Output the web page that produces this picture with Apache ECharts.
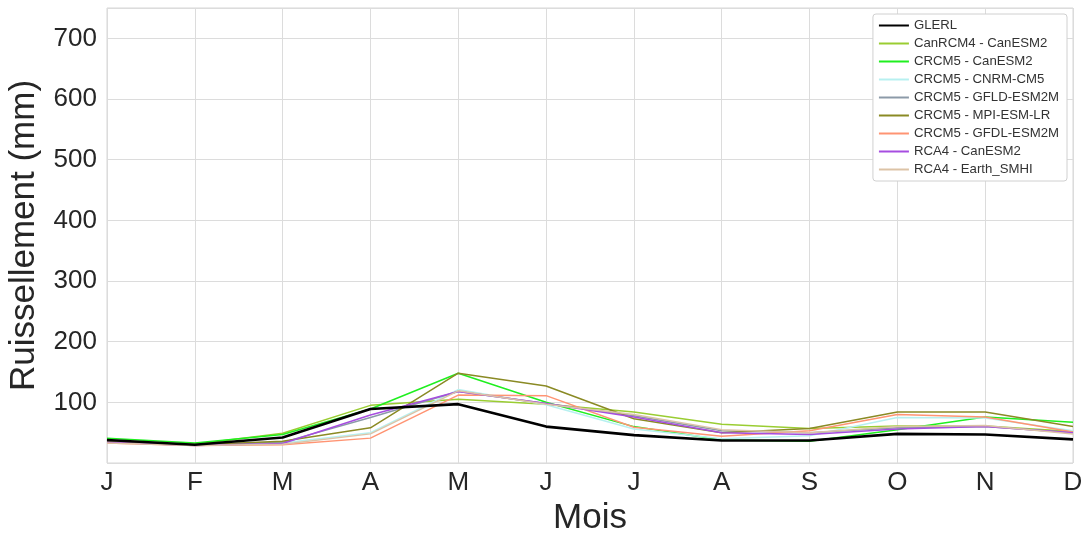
<!DOCTYPE html>
<html>
<head>
<meta charset="utf-8">
<script src="https://cdn.jsdelivr.net/npm/echarts@6/dist/echarts.min.js"></script>
<style>
  html, body { margin: 0; padding: 0; background: #fff; }
  #chart { width: 1087px; height: 533px; }
</style>
</head>
<body>
<div id="chart"></div>
<script>
// mois
var months = ["J", "F", "M", "A", "M", "J", "J", "A", "S", "O", "N", "D"];

// ruissellement mensuel (mm)
var glerl        = [38, 30, 42, 89, 97, 60, 46, 37, 37, 48, 47, 39];
var canrcm4Can   = [36, 31, 49, 95, 105, 97, 84, 64, 57, 61, 61, 52];
var crcm5Can     = [41, 33, 47, 89, 148, 100, 60, 38, 36, 55, 76, 67];
var crcm5Cnrm    = [35, 30, 33, 50, 121, 96, 56, 40, 45, 75, 74, 53];
var crcm5Gfld    = [34, 30, 34, 75, 118, 98, 78, 53, 50, 58, 60, 50];
var crcm5Mpi     = [35, 30, 36, 58, 148, 127, 73, 50, 57, 84, 84, 60];
var crcm5Gfdl    = [33, 29, 30, 41, 112, 111, 59, 44, 53, 80, 76, 51];
var rca4Can      = [34, 29, 32, 79, 118, 98, 76, 50, 47, 56, 60, 50];
var rca4Earth    = [33, 29, 31, 48, 119, 97, 80, 55, 50, 60, 62, 48];

var yTicks = [100, 200, 300, 400, 500, 600, 700];

var myChart = echarts.init(document.getElementById("chart"));

function serie(name, data, color, width) {
  return {
    name: name,
    type: "line",
    data: data,
    symbol: "none",
    z: width > 2 ? 10 : 2,
    lineStyle: { color: color, width: width },
    itemStyle: { color: color }
  };
}

var option = {
  animation: false,
  backgroundColor: "#fff",
  grid: {
    left: 107,
    right: 14,
    top: 8,
    bottom: 70,
    containLabel: false,
    outerBoundsMode: "none",
    show: true,
    borderColor: "#d6d6d6",
    borderWidth: 1
  },
  legend: {
    orient: "vertical",
    right: 20,
    top: 14,
    itemWidth: 30,
    itemHeight: 14,
    itemGap: 5,
    padding: [5, 8, 5, 5],
    borderColor: "#d0d0d0",
    borderWidth: 1,
    borderRadius: 3,
    backgroundColor: "#fff",
    itemStyle: { opacity: 0 },
    textStyle: { fontSize: 13.2, color: "#333", fontFamily: "Liberation Sans" }
  },
  xAxis: {
    type: "category",
    data: months,
    boundaryGap: false,
    name: "Mois",
    nameLocation: "middle",
    nameGap: 38,
    nameTextStyle: { fontSize: 35, color: "#262626", fontFamily: "Liberation Sans" },
    axisLine: { show: false },
    axisTick: { show: false },
    axisLabel: { fontSize: 26, color: "#262626", margin: 7, fontFamily: "Liberation Sans" },
    splitLine: { show: true, lineStyle: { color: "#dcdcdc", width: 1 } }
  },
  yAxis: {
    type: "value",
    min: 0,
    max: 750,
    interval: 100,
    name: "Ruissellement (mm)",
    nameLocation: "middle",
    nameGap: 65,
    nameTextStyle: { fontSize: 35, color: "#262626", fontFamily: "Liberation Sans" },
    axisLine: { show: false },
    axisTick: { show: false },
    axisLabel: {
      fontSize: 26,
      color: "#262626",
      margin: 10,
      fontFamily: "Liberation Sans",
      showMinLabel: false,
      showMaxLabel: false,
      formatter: function (v) { return yTicks.indexOf(v) >= 0 ? String(v) : ""; }
    },
    splitLine: { show: true, lineStyle: { color: "#dcdcdc", width: 1 } }
  },
  series: [
    serie("GLERL", glerl, "#000000", 2.6),
    serie("CanRCM4 - CanESM2", canrcm4Can, "#9acd32", 1.5),
    serie("CRCM5 - CanESM2", crcm5Can, "#1fef1f", 1.5),
    serie("CRCM5 - CNRM-CM5", crcm5Cnrm, "#b7f0f0", 1.5),
    serie("CRCM5 - GFLD-ESM2M", crcm5Gfld, "#8c9aa8", 1.5),
    serie("CRCM5 - MPI-ESM-LR", crcm5Mpi, "#8a8a24", 1.5),
    serie("CRCM5 - GFDL-ESM2M", crcm5Gfdl, "#ff9473", 1.5),
    serie("RCA4 - CanESM2", rca4Can, "#a64de0", 1.5),
    serie("RCA4 - Earth_SMHI", rca4Earth, "#dcc3a6", 1.5)
  ]
};

option && myChart.setOption(option);
</script>
</body>
</html>
